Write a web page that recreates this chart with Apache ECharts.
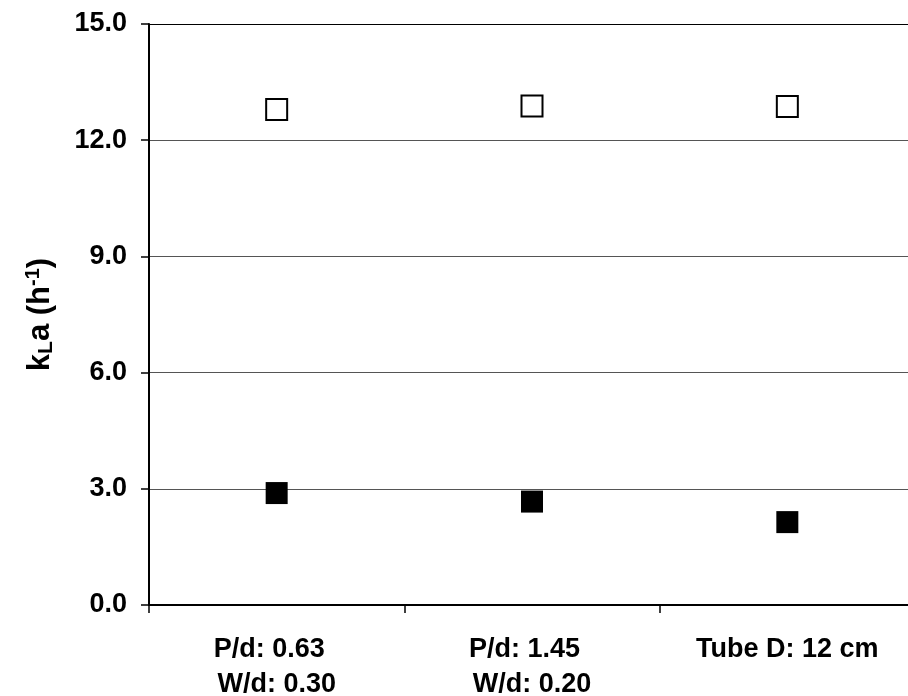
<!DOCTYPE html>
<html><head><meta charset="utf-8">
<script src="https://cdn.jsdelivr.net/npm/echarts@6/dist/echarts.min.js"></script>
<style>html,body{margin:0;padding:0;background:#fff}#c{width:908px;height:696px}</style>
</head><body><div id="c"></div>
<script>
var categories = ['P/d: 0.63  \nW/d: 0.30', 'P/d: 1.45  \nW/d: 0.20', 'Tube D: 12 cm'];
var openValues = [12.79, 12.88, 12.87];
var filledValues = [2.89, 2.67, 2.14];
var yTicks = [0, 3, 6, 9, 12, 15];

var font = '"Liberation Sans", Arial, sans-serif';
var chart = echarts.init(document.getElementById('c'), null, {renderer: 'canvas'});
chart.setOption({
  animation: false,
  backgroundColor: '#fff',
  grid: {left: 149, width: 766, top: 24, height: 581, containLabel: false, outerBoundsMode: 'none'},
  xAxis: {
    type: 'category', data: categories, boundaryGap: true,
    axisLine: {lineStyle: {color: '#000', width: 2}},
    axisTick: {show: true, length: 8, lineStyle: {color: '#000', width: 1.5}},
    axisLabel: {color: '#000', fontFamily: font, fontWeight: 'bold', fontSize: 27, lineHeight: 35, margin: 27, interval: 0},
    splitLine: {show: false}
  },
  yAxis: {
    type: 'value', min: 0, max: 15, interval: 3,
    name: '{a|k}{s|L}{a|a (h}{p|-1}{a|)}',
    nameLocation: 'middle', nameGap: 92, nameRotate: 90,
    nameTextStyle: {
      rich: {
        a: {fontFamily: font, fontWeight: 'bold', fontSize: 31, color: '#000'},
        s: {fontFamily: font, fontWeight: 'bold', fontSize: 21, color: '#000', verticalAlign: 'bottom', padding: [8, 0, 0, 0]},
        p: {fontFamily: font, fontWeight: 'bold', fontSize: 20, color: '#000', verticalAlign: 'top', padding: [0, 0, 14, 0]}
      }
    },
    axisLine: {show: true, lineStyle: {color: '#000', width: 2}},
    axisTick: {show: true, length: 8, lineStyle: {color: '#000', width: 1.5}},
    axisLabel: {color: '#000', fontFamily: font, fontWeight: 'bold', fontSize: 27, margin: 22,
      formatter: function (v) { return v.toFixed(1); }},
    splitLine: {show: true, lineStyle: {color: ['#000', '#555', '#555', '#555', '#555', '#000'], width: 1.2}}
  },
  series: [
    {type: 'scatter', data: openValues, symbol: 'rect', symbolSize: 21,
      itemStyle: {color: '#fff', borderColor: '#000', borderWidth: 2, opacity: 1}, z: 3},
    {type: 'scatter', data: filledValues, symbol: 'rect', symbolSize: 22,
      itemStyle: {color: '#000', borderColor: '#000', borderWidth: 0, opacity: 1}, z: 3}
  ]
});
</script></body></html>
